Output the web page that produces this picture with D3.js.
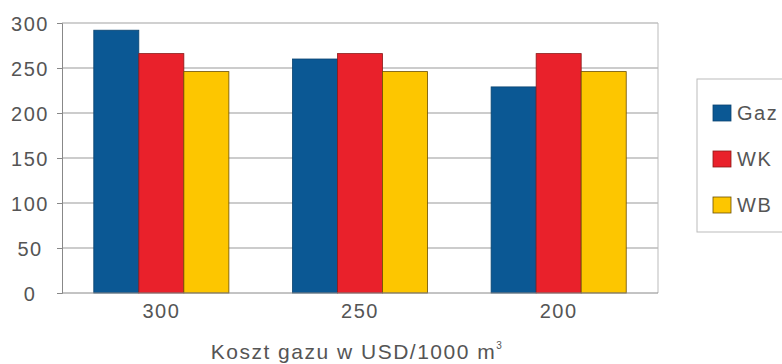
<!DOCTYPE html>
<html>
<head>
<meta charset="utf-8">
<script src="https://cdn.jsdelivr.net/npm/d3@7"></script>
<style>
    body { margin: 0; background: #fff; }
    svg text { font-family: "Liberation Sans", Arial, sans-serif; fill: #555; letter-spacing: 1.5px; }
</style>
</head>
<body>
<div id="chart"></div>
<script>
// categories (gas cost) and series
const categories = ["300", "250", "200"];
const seriesNames = ["Gaz", "WK", "WB"];
const gazValues = [292, 260, 229];
const wkValues = [266, 266, 266];
const wbValues = [246, 246, 246];
const yTicks = [0, 50, 100, 150, 200, 250, 300];

const colors = {Gaz: "#0b5894", WK: "#e9212b", WB: "#fdc600"};
const strokes = {Gaz: "#0a4470", WK: "#8a1a18", WB: "#6b4f00"};

const width = 782, height = 364;
const margin = {top: 23, right: 124, bottom: 71, left: 62};

let svg = d3.select("#chart").append("svg")
    .attr("width", width)
    .attr("height", height);

let data = categories.map((c, i) => ({
    cat: c,
    Gaz: gazValues[i],
    WK: wkValues[i],
    WB: wbValues[i]
}));

let x0 = d3.scaleBand()
    .domain(categories)
    .range([margin.left, width - margin.right])
    .paddingInner(0.32)
    .paddingOuter(0.16);

let x1 = d3.scaleBand()
    .domain(seriesNames)
    .range([0, x0.bandwidth()]);

let y = d3.scaleLinear()
    .domain([0, 300])
    .range([height - margin.bottom, margin.top]);

// gridlines
svg.append("g")
    .selectAll("line")
    .data(yTicks.filter(t => t > 0))
    .enter()
    .append("line")
    .attr("x1", margin.left)
    .attr("x2", width - margin.right)
    .attr("y1", d => y(d))
    .attr("y2", d => y(d))
    .attr("stroke", d => d === 300 ? "#d0d0d0" : "#999")
    .attr("stroke-width", d => d === 300 ? 2 : 1);

// right border of plot area
svg.append("line")
    .attr("x1", width - margin.right)
    .attr("x2", width - margin.right)
    .attr("y1", margin.top)
    .attr("y2", height - margin.bottom)
    .attr("stroke", "#bbb");

// bars
svg.append("g")
    .selectAll("g")
    .data(data)
    .enter()
    .append("g")
    .attr("transform", d => `translate(${x0(d.cat)},0)`)
    .selectAll("rect")
    .data(d => seriesNames.map(s => ({key: s, value: d[s]})))
    .enter()
    .append("rect")
    .attr("x", d => x1(d.key))
    .attr("y", d => y(d.value))
    .attr("width", x1.bandwidth())
    .attr("height", d => y(0) - y(d.value))
    .attr("fill", d => colors[d.key])
    .attr("stroke", d => strokes[d.key])
    .attr("stroke-width", 0.8);

// y axis (labels are centred in the reference)
let yAxis = svg.append("g")
    .attr("transform", `translate(${margin.left},0)`)
    .call(d3.axisLeft(y).tickValues(yTicks).tickSize(5));
yAxis.select(".domain").attr("stroke", "#888");
yAxis.selectAll(".tick line").attr("stroke", "#888");
yAxis.selectAll("text")
    .attr("text-anchor", "middle")
    .attr("x", 30 - margin.left)
    .attr("dy", "0.36em")
    .style("font-size", "20px")
    .attr("fill", "#555");

// x axis
let xAxis = svg.append("g")
    .attr("transform", `translate(0,${height - margin.bottom})`)
    .call(d3.axisBottom(x0).tickSize(0).tickPadding(11));
xAxis.select(".domain").attr("stroke", "#888").attr("d", `M${margin.left},0H${width - margin.right}`);
xAxis.selectAll("text").style("font-size", "20px").attr("fill", "#555");

// axis title
let title = svg.append("text")
    .attr("x", 357)
    .attr("y", 359)
    .attr("text-anchor", "middle")
    .style("font-size", "21px");
title.append("tspan").text("Koszt gazu w USD/1000 m");
title.append("tspan").text("3").attr("dy", -10).style("font-size", "10px");

// legend
let legend = svg.append("g");
legend.append("rect")
    .attr("x", 697)
    .attr("y", 79)
    .attr("width", 100)
    .attr("height", 153)
    .attr("fill", "#fff")
    .attr("stroke", "#bbb");

let legendY = d3.scalePoint()
    .domain(seriesNames)
    .range([113, 205]);

let items = legend.selectAll(".item")
    .data(seriesNames)
    .enter()
    .append("g")
    .attr("class", "item")
    .attr("transform", d => `translate(713,${legendY(d)})`);

items.append("rect")
    .attr("x", 0)
    .attr("y", -8)
    .attr("width", 18)
    .attr("height", 16)
    .attr("fill", d => colors[d])
    .attr("stroke", d => strokes[d])
    .attr("stroke-width", 0.8);

items.append("text")
    .attr("x", 24)
    .attr("y", 7)
    .style("font-size", "20px")
    .attr("fill", "#666")
    .text(d => d);
</script>
</body>
</html>
